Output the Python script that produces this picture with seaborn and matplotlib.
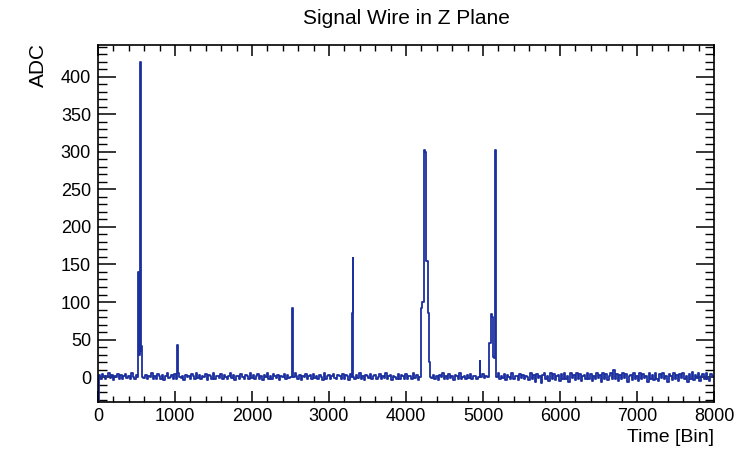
import numpy as np
import pandas as pd
import matplotlib
matplotlib.use("Agg")
import matplotlib.pyplot as plt
import seaborn as sns
from matplotlib.ticker import MultipleLocator

sns.set_theme(style="ticks")
plt.rcParams["font.family"] = ["Liberation Sans", "DejaVu Sans"]
plt.rcParams["text.color"] = "black"

# ---------------- data ----------------
# baseline noise, sampled every 20 time bins from 0 to 8000
baseline_time = np.arange(0, 8001, 20)
baseline_adc = [
    -40, 3, -2, 4, 1, -3, 2, 5, -1, 3, -4, 2, 0, 4, -2, 3, -3, 1, 4, -1,
    2, -3, 5, 0, -2, 3, 1, -4, 2, 4, -1, 3, -3, 2, 0, 5, -2, 1, -3, 4,
    1, -2, 3, -4, 2, 5, -1, 0, 3, -3, 4, -2, 1, 6, -1, 2, -4, 3, 0, 2,
    -3, 4, 1, -2, 5, -1, 3, -3, 2, 0, 4, -4, 3, 1, -2, 5, -3, 2, 1, -1,
    4, -2, 3, 0, -3, 2, 5, -1, 3, -4, 1, 2, -2, 4, 0, -3, 3, 1, -2, 5,
    -1, 3, -3, 2, 4, -2, 1, -4, 3, 0, 5, -2, 2, -3, 4, 1, -1, 3, -4, 2,
    0, 4, -2, 3, -1, 0, 2, -3, 5, 1, -2, 3, -4, 2, 0, 4, -3, 1, 3, -2,
    4, -1, 2, -3, 3, 0, -4, 5, -2, 1, 3, -3, 2, 4, -1, -3, 3, 1, -2, 4,
    -2, 3, 1, -4, 4, 0, 2, -3, 3, -1, 5, -2, 1, -4, 3, 2, -1, 4, -3, 2,
    3, -2, 0, 4, -3, 2, -1, 5, -2, 1, 3, -4, 2, 0, -2, 4, -3, 3, 1, -2,
    4, -3, 2, 1, -2, 5, -1, 3, -4, 2, 0, 3, -2, 4, 1, -3, 2, -1, 3, -2,
    2, -4, 3, 0, 5, -2, 1, -3, 4, -1, 2, -4, 3, 1, -2, 5, -3, 0, 2, -2,
    3, -1, 4, -3, 1, 2, -2, 3, 0, -3, 4, -1, 2, -2, 5, -4, 1, 3, -2, 2,
    6, -3, 2, -1, 4, -4, 3, 0, -2, 5, -3, 2, 1, -4, 4, -1, 3, -3, 2, 0,
    -4, 5, -2, 3, -6, 4, -1, 2, -8, 3, 5, -3, 2, -5, 6, -2, 4, -4, 1, 3,
    -5, 4, -2, 6, -3, 2, -6, 5, -1, 3, -4, 6, -2, 4, -5, 1, 3, -3, 5, -2,
    4, -5, 2, -3, 6, -1, 3, -6, 5, -2, 4, -4, 2, 6, -3, 9, -2, 4, -5, 3,
    -3, 5, -1, 4, -6, 2, 3, -4, 5, -2, 1, -5, 6, -3, 4, -1, 2, -6, 5, -2,
    3, -4, 6, -2, -5, 4, -1, 5, -3, 2, -6, 4, 1, -4, 6, -2, 3, -5, 4, -1,
    5, -3, 2, -6, 4, -2, 7, -4, 3, -1, 5, -5, 2, 4, -3, 6, -2, -5, 4, 2,
    0,
]

# signal pulses
pulse_time = [
    515, 530, 540, 548, 556, 565, 575,
    1020, 1035, 1050, 1065,
    2515, 2530, 2545,
    3295, 3305, 3312, 3320,
    4185, 4195, 4215, 4240, 4255, 4270, 4290, 4305, 4320,
    4950, 4960, 4972,
    5070, 5080, 5095, 5105, 5120, 5135, 5150, 5165, 5178,
]
pulse_adc = [
    0, 140, 30, 420, 35, 42, 0,
    -2, 43, 5, 0,
    0, 92, 0,
    0, 85, 158, 0,
    0, 92, 100, 302, 300, 155, 85, 20, 0,
    0, 22, 0,
    0, 45, 45, 84, 80, 27, 25, 302, 0,
]

# ---------------- assemble waveform ----------------
pt = np.array(pulse_time)
bt = np.asarray(baseline_time)
keep = np.array([np.min(np.abs(t - pt)) > 10 for t in bt])
df = pd.DataFrame({
    "time": np.concatenate([bt[keep], pt]),
    "adc": np.concatenate([np.asarray(baseline_adc)[keep], np.array(pulse_adc)]),
}).sort_values("time").reset_index(drop=True)

# ---------------- figure ----------------
W, H = 739, 451
fig = plt.figure(figsize=(W / 100, H / 100), dpi=100)
ax = fig.add_axes([98 / W, 1 - 402 / H, (714 - 98) / W, (402 - 45) / H])

sns.lineplot(data=df, x="time", y="adc", ax=ax, estimator=None, sort=False,
             color="#1c2f9e", linewidth=1.3, drawstyle="steps-mid")

ax.set_xlim(0, 8000)
ax.set_ylim(-33, 442)

ax.xaxis.set_major_locator(MultipleLocator(1000))
ax.xaxis.set_minor_locator(MultipleLocator(200))
ax.yaxis.set_major_locator(MultipleLocator(50))
ax.yaxis.set_minor_locator(MultipleLocator(10))

ax.tick_params(axis="both", which="both", direction="in",
               top=True, right=True, colors="black", labelsize=13)
ax.tick_params(axis="x", which="major", length=8, width=1.1, pad=4)
ax.tick_params(axis="x", which="minor", length=4, width=1.0)
ax.tick_params(axis="y", which="major", length=13, width=1.1, pad=5)
ax.tick_params(axis="y", which="minor", length=6.5, width=1.0)

for s in ax.spines.values():
    s.set_visible(True)
    s.set_color("black")
    s.set_linewidth(1.2)

ax.set_xlabel("")
ax.set_ylabel("")
ax.grid(False)

fig.text(406 / W, 1 - 18 / H, "Signal Wire in Z Plane", ha="center",
         va="center", fontsize=15)
fig.text(714 / W, 1 - 438 / H, "Time [Bin]", ha="right", va="center",
         fontsize=14)
fig.text(38.5 / W, 1 - 43 / H, "ADC", ha="center", va="top", rotation=90,
         fontsize=15)

fig.savefig("out.png", dpi=100, facecolor="white")
